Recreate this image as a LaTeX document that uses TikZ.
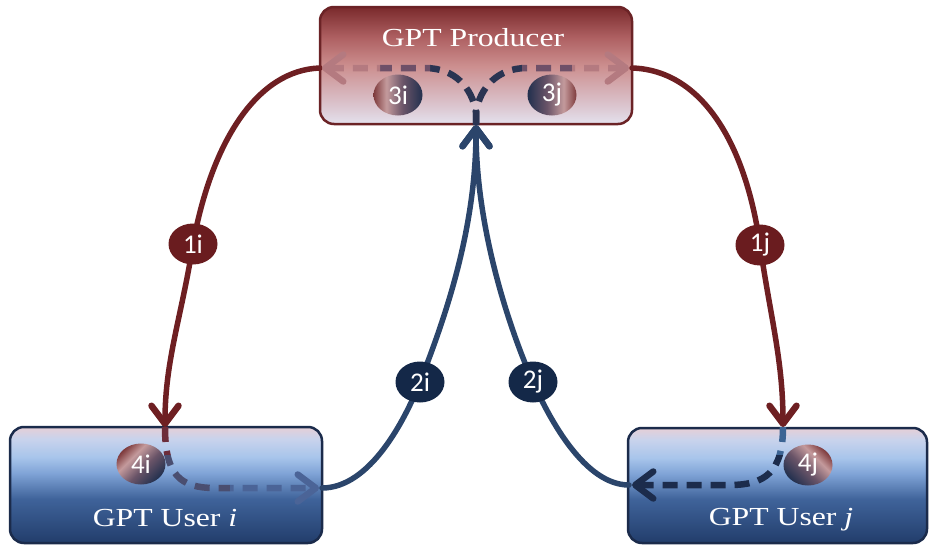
\documentclass[tikz,border=0pt]{standalone}
\usepackage{fontspec}
\usepackage{graphicx}
\setmainfont{Liberation Serif}
\newfontfamily\badgefont{Carlito}
\usetikzlibrary{arrows.meta,shapes.geometric}

\definecolor{redline}{HTML}{6E1F22}
\definecolor{blueline}{HTML}{2B456B}
\definecolor{redbadge}{HTML}{6A1C1F}
\definecolor{bluebadge}{HTML}{142848}
\definecolor{prodborder}{HTML}{6B2326}
\definecolor{userborder}{HTML}{1B2B4B}

\definecolor{p0}{HTML}{E4E2EE}
\definecolor{p1}{HTML}{DCC8D2}
\definecolor{p2}{HTML}{CC8E8E}
\definecolor{p3}{HTML}{AE6062}
\definecolor{p4}{HTML}{7A2A2C}
\pgfdeclareverticalshading{prodshade}{100bp}{color(0bp)=(p0); color(25bp)=(p0); color(32bp)=(p1); color(50bp)=(p2); color(62bp)=(p3); color(75bp)=(p4); color(100bp)=(p4)}

\definecolor{u0}{HTML}{223D6B}
\definecolor{u1}{HTML}{3F639A}
\definecolor{u2}{HTML}{7FA3D6}
\definecolor{u3}{HTML}{A8C5EB}
\definecolor{u4}{HTML}{C9D3EC}
\definecolor{u5}{HTML}{E6CFD7}
\pgfdeclareverticalshading{usershade}{100bp}{color(0bp)=(u0); color(25bp)=(u0); color(44bp)=(u1); color(55bp)=(u2); color(62bp)=(u3); color(70bp)=(u4); color(75bp)=(u5); color(100bp)=(u5)}

\definecolor{b0}{HTML}{7E3A3C}
\definecolor{b1}{HTML}{C49A9C}
\definecolor{b2}{HTML}{6A5468}
\definecolor{b3}{HTML}{22304E}
\pgfdeclarehorizontalshading{badgeRL}{100bp}{color(0bp)=(b0); color(25bp)=(b0); color(38bp)=(b1); color(55bp)=(b2); color(75bp)=(b3); color(100bp)=(b3)}
\pgfdeclarehorizontalshading{badgeLR}{100bp}{color(0bp)=(b3); color(25bp)=(b3); color(45bp)=(b2); color(62bp)=(b1); color(75bp)=(b0); color(100bp)=(b0)}

\definecolor{dnavy}{HTML}{2A3452}
\definecolor{dmauve}{HTML}{6E5068}
\definecolor{drose}{HTML}{B47A80}
\definecolor{dred}{HTML}{6C2C3A}
\definecolor{dmid}{HTML}{4A4E70}
\definecolor{dblue}{HTML}{4B6497}
\definecolor{dlblue}{HTML}{3C6494}
\definecolor{ddark}{HTML}{1C2C4C}

\newcommand{\hx}[1]{\scalebox{1.22}[1]{#1}}

\begin{document}
\begin{tikzpicture}[x=1pt,y=-1pt,
  box/.style={rounded corners=14pt, line width=2.5pt, inner sep=0pt},
  prodbox/.style={box, draw=prodborder, shade, shading=prodshade},
  userbox/.style={box, draw=userborder, shade, shading=usershade},
  boxtext/.style={text=white, font=\fontsize{26}{30}\selectfont, anchor=base, inner sep=0pt},
  badge/.style={ellipse, minimum width=49pt, minimum height=41pt, inner sep=0pt, text=white, font=\badgefont\fontsize{27}{30}\selectfont},
  conn/.style={line width=5.5pt, line cap=round},
  arr/.style={-{Straight Barb[length=18pt,width=27pt,line width=6.5pt,round]}},
  dsh/.style={line width=6.5pt, dash pattern=on 15pt off 9pt},
]
\useasboundingbox (0,0) rectangle (930,546);

% boxes
\node[prodbox, minimum width=312pt, minimum height=117pt] (prod) at (476,65.5) {};
\node[userbox, minimum width=312pt, minimum height=116pt] (ui) at (166,485) {};
\node[userbox, minimum width=299pt, minimum height=115pt] (uj) at (777.5,485.5) {};

\node[boxtext] (prodtxt) at (473,46) {\hx{GPT Producer}};
\node[boxtext] (uitxt) at (165,526) {\hx{GPT User \textit{i}}};
\node[boxtext] (ujtxt) at (781,525) {\hx{GPT User \textit{j}}};

% anchor coordinates
\coordinate (pL) at (320,68);
\coordinate (pR) at (632,68);
\coordinate (pLin) at (322,68);
\coordinate (pRin) at (629,68);
\coordinate (pB) at (476,125);
\coordinate (uiT) at (165,427);
\coordinate (uiR) at (322,488);
\coordinate (uiRin) at (319,488);
\coordinate (ujT) at (783,427);
\coordinate (ujL) at (629,485);
\coordinate (ujLin) at (632,485);
\coordinate (c1i) at (193,244);
\coordinate (c1j) at (760,245);
\coordinate (c2i) at (420,382);
\coordinate (c2j) at (533,382);

% solid connectors
\draw[conn, redline, arr] (pL) .. controls (258,70) and (212,140) .. (c1i)
  .. controls (182,315) and (165,360) .. (uiT);
\draw[conn, redline, arr] (pR) .. controls (700,70) and (745,140) .. (c1j)
  .. controls (770,315) and (783,360) .. (ujT);
\draw[conn, blueline, arr] (uiR) .. controls (370,488) and (405,420) .. (c2i)
  .. controls (445,318) and (476,230) .. (pB);
\draw[conn, blueline, arr] (ujL) .. controls (585,485) and (550,420) .. (c2j)
  .. controls (510,330) and (476,230) .. (pB);

% dashed inside producer (left)
\begin{scope}
  \clip (430,0) rectangle (480,130);
  \draw[dsh, dnavy] (pB) -- (476,112) .. controls (472,88) and (455,68) .. (425,68) -- (pLin);
\end{scope}
\begin{scope}
  \clip (380,0) rectangle (430,130);
  \draw[dsh, dmauve] (pB) -- (476,112) .. controls (472,88) and (455,68) .. (425,68) -- (pLin);
\end{scope}
\begin{scope}
  \clip (300,0) rectangle (380,130);
  \draw[dsh, drose, arr] (pB) -- (476,112) .. controls (472,88) and (455,68) .. (425,68) -- (pLin);
\end{scope}
% dashed inside producer (right)
\begin{scope}
  \clip (472,0) rectangle (522,130);
  \draw[dsh, dnavy] (pB) -- (476,112) .. controls (480,88) and (497,68) .. (527,68) -- (pRin);
\end{scope}
\begin{scope}
  \clip (522,0) rectangle (572,130);
  \draw[dsh, dmauve] (pB) -- (476,112) .. controls (480,88) and (497,68) .. (527,68) -- (pRin);
\end{scope}
\begin{scope}
  \clip (572,0) rectangle (650,130);
  \draw[dsh, drose, arr] (pB) -- (476,112) .. controls (480,88) and (497,68) .. (527,68) -- (pRin);
\end{scope}

% dashed inside user i
\begin{scope}
  \clip (140,420) rectangle (200,455);
  \draw[dsh, dred] (uiT) .. controls (165,475) and (180,488) .. (215,488) -- (uiRin);
\end{scope}
\begin{scope}
  \clip (140,455) rectangle (230,500);
  \draw[dsh, dmid] (uiT) .. controls (165,475) and (180,488) .. (215,488) -- (uiRin);
\end{scope}
\begin{scope}
  \clip (230,455) rectangle (340,510);
  \draw[dsh, dblue, arr] (uiT) .. controls (165,475) and (180,488) .. (215,488) -- (uiRin);
\end{scope}

% dashed inside user j
\begin{scope}
  \clip (740,420) rectangle (800,455);
  \draw[dsh, dlblue] (ujT) .. controls (783,472) and (765,485) .. (730,485) -- (ujLin);
\end{scope}
\begin{scope}
  \clip (610,455) rectangle (800,510);
  \draw[dsh, ddark, arr] (ujT) .. controls (783,472) and (765,485) .. (730,485) -- (ujLin);
\end{scope}

% badges
\node[badge, fill=redbadge] (b1i) at (c1i) {1i};
\node[badge, fill=redbadge] (b1j) at (c1j) {1j};
\node[badge, fill=bluebadge] (b2i) at (c2i) {2i};
\node[badge, fill=bluebadge] (b2j) at (c2j) {2j};
\node[badge, shade, shading=badgeRL] (b3i) at (398,95) {3i};
\node[badge, shade, shading=badgeLR] (b3j) at (552,95) {3j};
\node[badge, shade, shading=badgeRL, shading angle=-45] (b4i) at (141,464) {4i};
\node[badge, shade, shading=badgeLR, shading angle=45] (b4j) at (808,465) {4j};
\end{tikzpicture}
\end{document}
